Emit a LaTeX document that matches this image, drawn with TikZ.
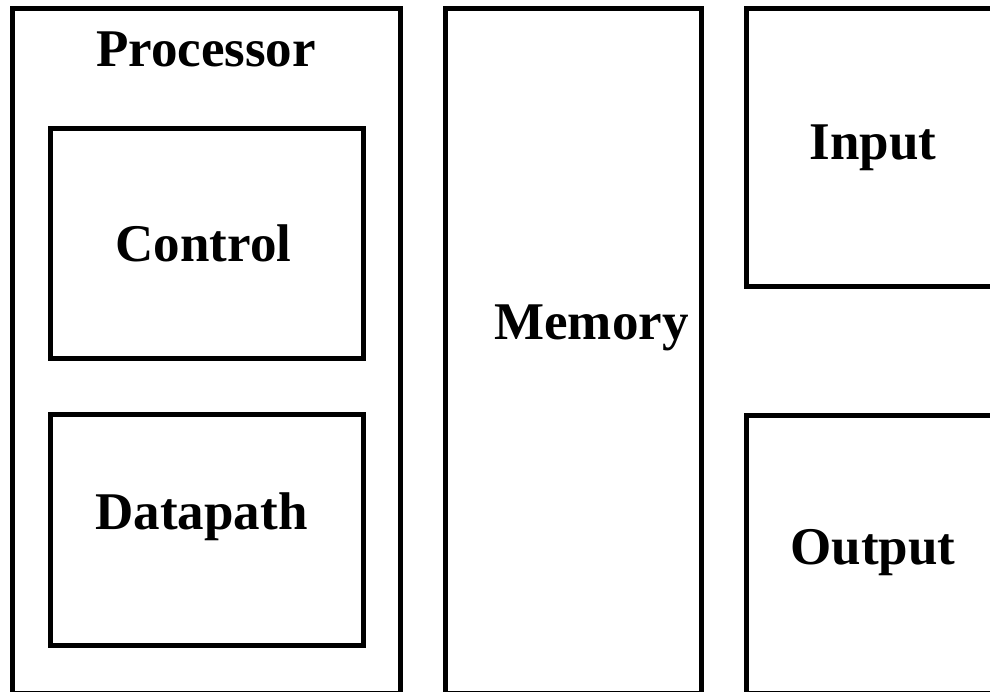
\documentclass[tikz,border=0pt]{standalone}
\usepackage{fontspec}
\setmainfont{Liberation Serif}
\begin{document}
\begin{tikzpicture}[x=1pt,y=-1pt,
  box/.style={draw=black,line width=5pt,line join=miter},
  lbl/.style={anchor=base,inner sep=0pt,font=\fontsize{53}{60}\selectfont\bfseries}]
\useasboundingbox (0,0) rectangle (990,691);
\fill[white] (0,0) rectangle (990,691);
% boxes
\draw[box] (12.5,8.5) rectangle (400,693) coordinate (procSE);
\draw[box] (445.5,8.5) rectangle (701,693) coordinate (memSE);
\draw[box] (746.5,8.5) rectangle (1000,286.5) coordinate (inSE);
\draw[box] (746.5,415) rectangle (1000,693) coordinate (outSE);
\draw[box] (50.5,128.5) rectangle (363.5,358.5) coordinate (ctrlSE);
\draw[box] (50.5,414.5) rectangle (363.5,645.5) coordinate (dpSE);
% labels
\node[lbl] (proc) at (206,66) {Processor};
\node[lbl] (ctrl) at (203.5,261) {Control};
\node[lbl] (dp) at (201.5,529) {Datapath};
\node[lbl] (mem) at (591.5,339) {Memory};
\node[lbl] (in) at (873,159) {Input};
\node[lbl] (out) at (873,564) {Output};
\end{tikzpicture}
\end{document}
